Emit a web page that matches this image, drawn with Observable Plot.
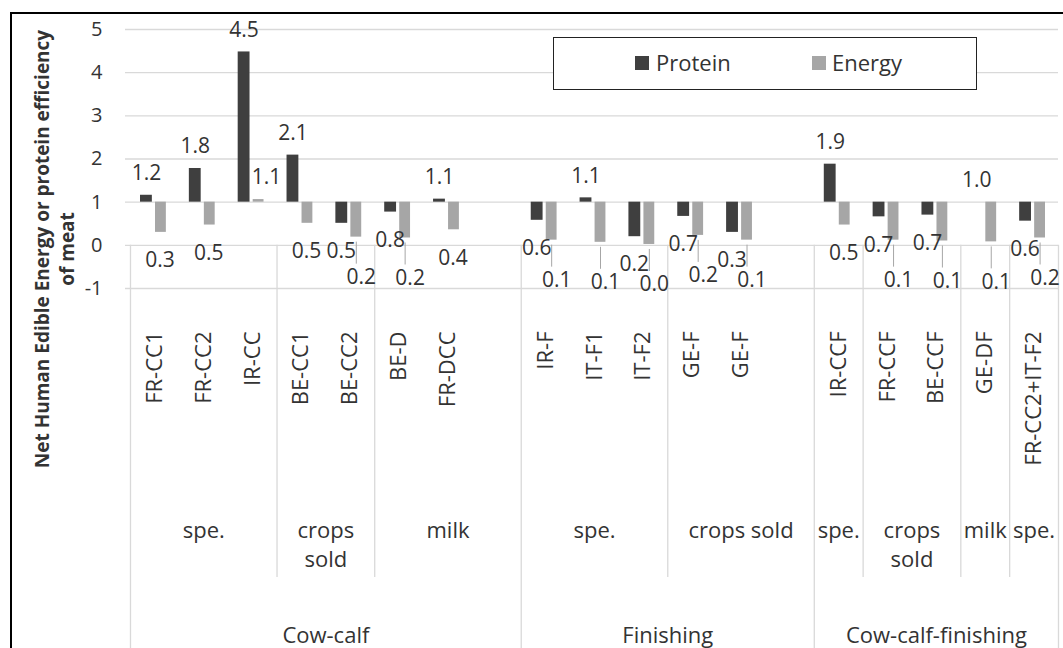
<!DOCTYPE html>
<html>
<head>
<meta charset="utf-8">
<script src="https://cdn.jsdelivr.net/npm/d3@7"></script>
<script src="https://cdn.jsdelivr.net/npm/@observablehq/plot@0.6"></script>
<style>
html,body{margin:0;padding:0;background:#fff;overflow:hidden;}
#wrap{position:relative;width:1063px;height:648px;font-family:"Open Sans",sans-serif;color:#333;}
#wrap svg{position:absolute;left:0;top:0;}
#border{position:absolute;left:10px;top:12px;width:1100px;height:700px;border:2px solid #000;pointer-events:none;}
#legend{position:absolute;left:553px;top:37px;width:424px;height:53px;border:1.5px solid #222;box-sizing:border-box;background:#fff;}
.sw{position:absolute;width:14px;height:14px;top:18px;}
.lt{position:absolute;top:9px;font-size:22px;line-height:30px;color:#333;}
</style>
</head>
<body>
<div id="wrap"><div id="border"></div></div>
<script>
// ---- data ----
const category = ["FR-CC1","FR-CC2","IR-CC","BE-CC1","BE-CC2","BE-D","FR-DCC","",
                  "IR-F","IT-F1","IT-F2","GE-F","GE-F","",
                  "IR-CCF","FR-CCF","BE-CCF","GE-DF","FR-CC2+IT-F2"];
const subgroup = ["spe.","spe.","spe.","crops sold","crops sold","milk","milk","milk",
                  "spe.","spe.","spe.","crops sold","crops sold","crops sold",
                  "spe.","crops sold","crops sold","milk","spe."];
const group = ["Cow-calf","Cow-calf","Cow-calf","Cow-calf","Cow-calf","Cow-calf","Cow-calf","Cow-calf",
               "Finishing","Finishing","Finishing","Finishing","Finishing","Finishing",
               "Cow-calf-finishing","Cow-calf-finishing","Cow-calf-finishing","Cow-calf-finishing","Cow-calf-finishing"];
const protein = [1.16,1.78,4.48,2.09,0.51,0.77,1.07,null,
                 0.58,1.10,0.20,0.67,0.30,null,
                 1.88,0.66,0.70,1.00,0.56];
const energy  = [0.30,0.47,1.06,0.51,0.19,0.17,0.36,null,
                 0.12,0.07,0.02,0.23,0.12,null,
                 0.47,0.12,0.10,0.08,0.17];
const series = ["Protein","Energy"];
const colors = ["#3f3f3f","#a6a6a6"];
const yTicks = [-1,0,1,2,3,4,5];
const yTitle = "Net Human Edible Energy or protein efficiency\nof meat";

// ---- derived tables ----
const n = category.length;
const rows = category.map((c,i)=>({i, c, g: group[i], s: subgroup[i], p: protein[i], e: energy[i]}));
const bars = rows.filter(d => d.c !== "");
const subRuns = [], grpRuns = [];
rows.forEach(d => {
  const a = subRuns[subRuns.length-1];
  if (a && a.g === d.g && a.s === d.s) a.end = d.i + 1; else subRuns.push({g:d.g, s:d.s, start:d.i, end:d.i+1});
  const b = grpRuns[grpRuns.length-1];
  if (b && b.g === d.g) b.end = d.i + 1; else grpRuns.push({g:d.g, start:d.i, end:d.i+1});
});
const longB = grpRuns.map(r => r.start).concat([n]);
const shortB = subRuns.map(r => r.start).filter(s => !longB.includes(s));
const fmt = v => v.toFixed(1);

const chart = Plot.plot({
  width: 1063, height: 648,
  marginTop: 29, marginBottom: 360, marginLeft: 130, marginRight: 5,
  x: {domain: [0, n], axis: null},
  y: {domain: [-1, 5]},
  style: {fontFamily: "'Open Sans', sans-serif", fontSize: "20px", color: "#333", background: "transparent", overflow: "visible"},
  marks: [
    Plot.ruleY(yTicks, {stroke: "#d9d9d9", strokeWidth: 1.3, insetLeft: -5}),
    Plot.ruleX(longB, {x: d => d, y1: -1, stroke: "#d9d9d9", strokeWidth: 1.3, insetBottom: -360}),
    Plot.ruleX(shortB, {x: d => d, y1: -1, stroke: "#d9d9d9", strokeWidth: 1.3, insetBottom: -289}),
    Plot.rect(bars, {x1: d => d.i, x2: d => d.i + 1, y1: 1, y2: "p", fill: colors[0], insetLeft: 10, insetRight: 27}),
    Plot.rect(bars, {x1: d => d.i, x2: d => d.i + 1, y1: 1, y2: "e", fill: colors[1], insetLeft: 25, insetRight: 13}),
    // leader lines for pushed energy labels
    Plot.ruleX(bars.filter(d => d.e < 0.25), {x: d => d.i + 0.5, y1: "e", y2: "e", dx: 6, insetTop: 5, insetBottom: -27, stroke: "#a6a6a6"}),
    // protein labels
    Plot.text(bars.filter(d => d.p >= 1), {x: d => d.i + 0.5, y: "p", text: d => fmt(d.p), dx: -8.5, dy: -22, fontSize: 21}),
    Plot.text(bars.filter(d => d.p < 1), {x: d => d.i + 0.5, y: "p", text: d => fmt(d.p), dx: -9, dy: 28, fontSize: 21}),
    // energy labels
    Plot.text(bars.filter(d => d.e >= 1), {x: d => d.i + 0.5, y: "e", text: d => fmt(d.e), dx: 14, dy: -22, fontSize: 21}),
    Plot.text(bars.filter(d => d.e < 1 && d.e >= 0.25), {x: d => d.i + 0.5, y: "e", text: d => fmt(d.e), dx: 5, dy: 28, fontSize: 21}),
    Plot.text(bars.filter(d => d.e < 0.25), {x: d => d.i + 0.5, y: "e", text: d => fmt(d.e), dx: 11, dy: 40, fontSize: 21}),
    // category table
    Plot.text(bars, {x: d => d.i + 0.5, y: -1, text: "c", rotate: -90, textAnchor: "end", dy: 43, fontSize: 22}),
    Plot.text(subRuns, {x: r => (r.start + r.end) / 2, y: -1, text: r => (r.end - r.start <= 2 ? r.s.replace(" ", "\n") : r.s), dy: 229, lineAnchor: "top", lineHeight: 1.32, fontSize: 22}),
    Plot.text(grpRuns, {x: r => (r.start + r.end) / 2, y: -1, text: "g", dy: 347, fontSize: 22}),
    // y axis
    Plot.axisY({ticks: yTicks, tickSize: 0, tickPadding: 28, tickFormat: d => String(d), fontSize: 20, label: null}),
    Plot.text([yTitle], {text: d => d, frameAnchor: "left", textAnchor: "middle", rotate: -90, dx: -77, dy: 90, fontWeight: "bold", fontSize: 19, lineHeight: 1.3})
  ]
});

const wrap = document.getElementById("wrap");
wrap.insertBefore(chart, wrap.firstChild);

// legend
const lg = document.createElement("div");
lg.id = "legend";
const swLeft = [81, 258], txLeft = [102, 278];
series.forEach((s, k) => {
  const sw = document.createElement("div");
  sw.className = "sw"; sw.style.left = swLeft[k] + "px"; sw.style.background = colors[k];
  const t = document.createElement("div");
  t.className = "lt"; t.style.left = txLeft[k] + "px"; t.textContent = s;
  lg.appendChild(sw); lg.appendChild(t);
});
wrap.appendChild(lg);
</script>
</body>
</html>
